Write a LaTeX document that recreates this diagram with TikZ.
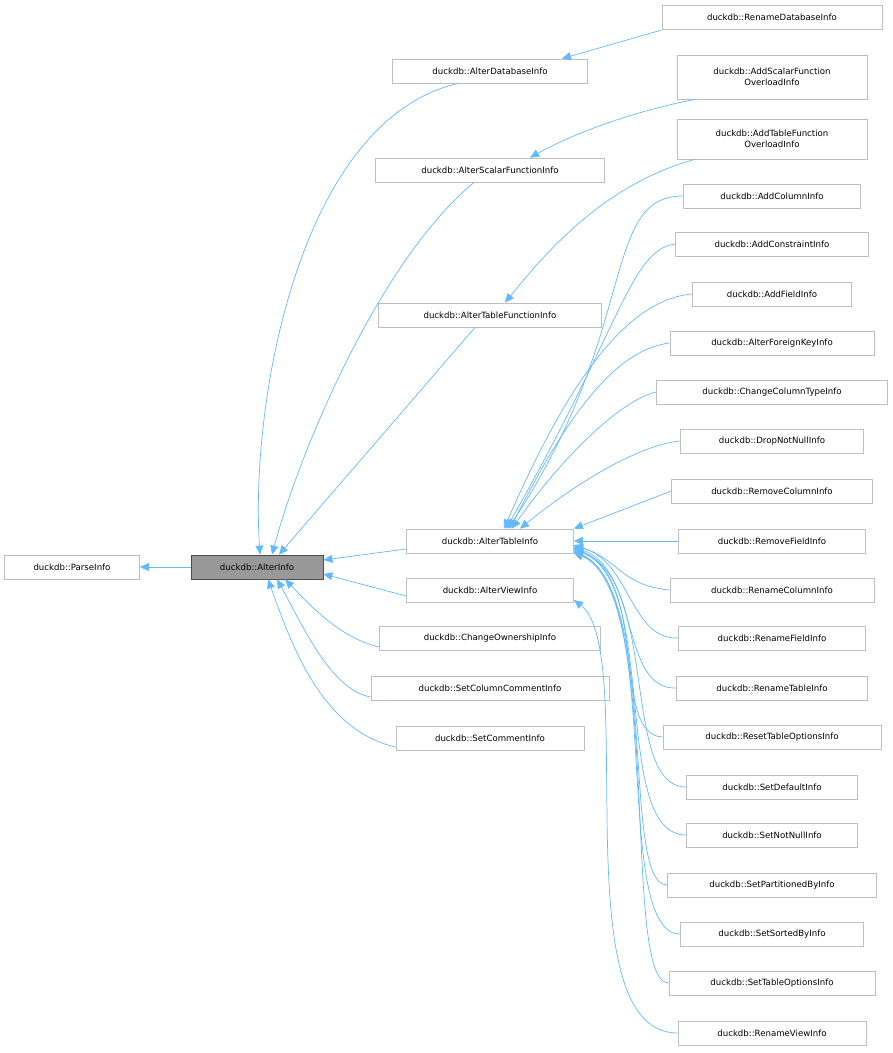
\documentclass[tikz,border=0pt]{standalone}
\usepackage{fontspec}
\setmainfont{DejaVu Sans}
\usetikzlibrary{arrows.meta}
\definecolor{edge}{HTML}{63B8FF}
\definecolor{bord}{HTML}{BFBFBF}
\tikzset{
  cls/.style={draw=bord,line width=0.8pt,fill=white,font=\fontsize{8.6}{10.5}\selectfont,inner sep=0pt,minimum height=24pt,align=center},
  cur/.style={cls,fill=gray!80,draw=gray!140},
  e/.style={draw=edge,line width=0.7pt,-{Triangle[length=9pt,width=8pt]}},
}
\begin{document}
\begin{tikzpicture}[x=1pt,y=-1pt]
\useasboundingbox (0,0) rectangle (893,1053);
\node[cls,minimum width=135pt] (pi) at (72,567) {duckdb::ParseInfo};
\node[cur,minimum width=132pt] (ai) at (257,567) {duckdb::AlterInfo};
\node[cls,minimum width=195pt] (adb) at (490,71) {duckdb::AlterDatabaseInfo};
\node[cls,minimum width=229pt] (asf) at (490,170) {duckdb::AlterScalarFunctionInfo};
\node[cls,minimum width=223pt] (atf) at (490,315) {duckdb::AlterTableFunctionInfo};
\node[cls,minimum width=167pt] (ati) at (490,541) {duckdb::AlterTableInfo};
\node[cls,minimum width=167pt] (avi) at (490,590) {duckdb::AlterViewInfo};
\node[cls,minimum width=221pt] (coi) at (490,638) {duckdb::ChangeOwnershipInfo};
\node[cls,minimum width=238pt] (scc) at (490,688) {duckdb::SetColumnCommentInfo};
\node[cls,minimum width=188pt] (sci) at (490,738) {duckdb::SetCommentInfo};
\node[cls,minimum width=220pt] (rdb) at (772,17) {duckdb::RenameDatabaseInfo};
\node[cls,minimum width=190pt,minimum height=44pt] (asfo) at (772,77) {duckdb::AddScalarFunction\\Overload­Info};
\node[cls,minimum width=190pt,minimum height=40pt] (atfo) at (772,139) {duckdb::AddTableFunction\\Overload­Info};
\node[cls,minimum width=177pt] (c1) at (772,196) {duckdb::AddColumnInfo};
\node[cls,minimum width=193pt] (c2) at (772,244) {duckdb::AddConstraintInfo};
\node[cls,minimum width=159pt] (c3) at (772,294) {duckdb::AddFieldInfo};
\node[cls,minimum width=204pt] (c4) at (772,343) {duckdb::AlterForeignKeyInfo};
\node[cls,minimum width=231pt] (c5) at (772,392) {duckdb::ChangeColumnTypeInfo};
\node[cls,minimum width=183pt] (c6) at (772,441) {duckdb::DropNotNullInfo};
\node[cls,minimum width=201pt] (c7) at (772,491) {duckdb::RemoveColumnInfo};
\node[cls,minimum width=187pt] (c8) at (772,541) {duckdb::RemoveFieldInfo};
\node[cls,minimum width=204pt] (c9) at (772,590) {duckdb::RenameColumnInfo};
\node[cls,minimum width=187pt] (c10) at (772,638) {duckdb::RenameFieldInfo};
\node[cls,minimum width=191pt] (c11) at (772,688) {duckdb::RenameTableInfo};
\node[cls,minimum width=218pt] (c12) at (772,737) {duckdb::ResetTableOptionsInfo};
\node[cls,minimum width=171pt] (c13) at (772,787) {duckdb::SetDefaultInfo};
\node[cls,minimum width=171pt] (c14) at (772,835) {duckdb::SetNotNullInfo};
\node[cls,minimum width=209pt] (c15) at (772,885) {duckdb::SetPartitionedByInfo};
\node[cls,minimum width=183pt] (c16) at (772,934) {duckdb::SetSortedByInfo};
\node[cls,minimum width=206pt] (c17) at (772,983) {duckdb::SetTableOptionsInfo};
\node[cls,minimum width=188pt] (rvi) at (772,1033) {duckdb::RenameViewInfo};

\draw[e] (ai) -- (pi);
\draw[e] ([xshift=-32pt]adb.south) .. controls (300,120) and (250,400) .. ([xshift=3pt]ai.north);
\draw[e] ([xshift=-16pt]asf.south) .. controls (380,260) and (300,450) .. ([xshift=15pt]ai.north);
\draw[e] ([xshift=-15pt]atf.south) -- ([xshift=22pt]ai.north);
\draw[e] (ati.west|-0,549) -- (ai.east|-0,560);
\draw[e] (avi.west|-0,596) -- (ai.east|-0,574);
\draw[e] (coi.west|-0,647) .. controls (340,638) and (310,605) .. ([xshift=28pt]ai.south);
\draw[e] (scc.west|-0,697) .. controls (330,690) and (300,620) .. ([xshift=20pt]ai.south);
\draw[e] (sci.west|-0,747) .. controls (320,730) and (290,640) .. ([xshift=11pt]ai.south);

\draw[e] (rdb.west|-0,30) -- ([xshift=72pt]adb.north);
\draw[e] ([xshift=-77pt]asfo.south) .. controls (640,110) and (580,130) .. ([xshift=40pt]asf.north);
\draw[e] ([xshift=-77pt]atfo.south) .. controls (600,185) and (540,260) .. ([xshift=15pt]atf.north);

\draw[e] (c1.west) .. controls (600,196) and (640,330) .. ([xshift=18pt]ati.north);
\draw[e] (c2.west) .. controls (630,250) and (620,330) .. ([xshift=16pt]ati.north);
\draw[e] (c3.west) .. controls (620,300) and (560,400) .. ([xshift=14pt]ati.north);
\draw[e] (c4.west) .. controls (610,350) and (560,430) .. ([xshift=20pt]ati.north);
\draw[e] (c5.west) .. controls (620,400) and (560,460) .. ([xshift=22pt]ati.north);
\draw[e] (c6.west) .. controls (640,445) and (580,480) .. ([xshift=30pt]ati.north);
\draw[e] (c7.west) -- (ati.north east);
\draw[e] (c8.west) -- (ati.east);
\draw[e] (c9.west) .. controls (620,585) and (620,560) .. (ati.east|-0,545);
\draw[e] (c10.west) .. controls (630,640) and (630,560) .. (ati.east|-0,546);
\draw[e] (c11.west) .. controls (620,690) and (640,570) .. (ati.east|-0,547);
\draw[e] (c12.west) .. controls (610,735) and (650,580) .. (ati.east|-0,548);
\draw[e] (c13.west) .. controls (620,787) and (660,580) .. (ati.east|-0,549);
\draw[e] (c14.west) .. controls (610,835) and (660,580) .. (ati.east|-0,550);
\draw[e] (c15.west) .. controls (620,885) and (660,590) .. (ati.east|-0,551);
\draw[e] (c16.west) .. controls (610,934) and (665,590) .. (ati.east|-0,552);
\draw[e] (c17.west) .. controls (620,983) and (665,590) .. (ati.east|-0,553);
\draw[e] (rvi.west) .. controls (560,1033) and (640,650) .. (avi.east|-0,600);
\end{tikzpicture}
\end{document}
